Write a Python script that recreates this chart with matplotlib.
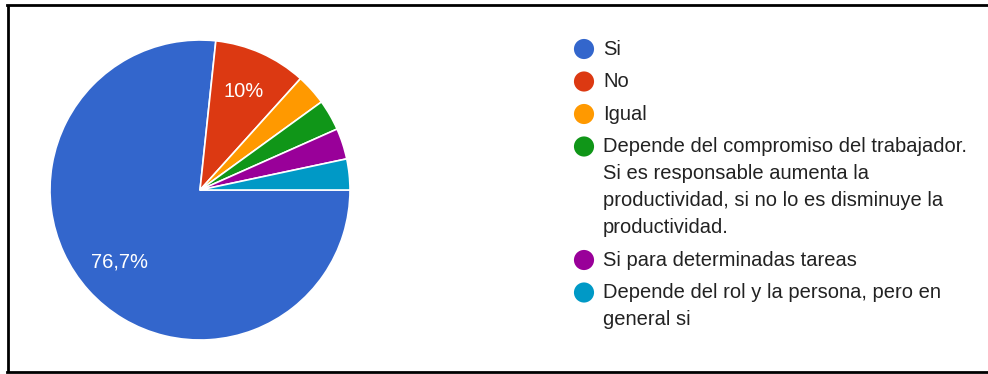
import matplotlib.pyplot as plt

plt.rcParams['font.family'] = ['Liberation Sans', 'DejaVu Sans']

# Survey answers and their share of responses (%)
labels = [
    "Si",
    "No",
    "Igual",
    "Depende del compromiso del trabajador.\nSi es responsable aumenta la\nproductividad, si no lo es disminuye la\nproductividad.",
    "Si para determinadas tareas",
    "Depende del rol y la persona, pero en\ngeneral si",
]
shares = [76.7, 10.0, 3.33, 3.33, 3.33, 3.33]
colors = ["#3366CC", "#DC3912", "#FF9900", "#109618", "#990099", "#0099C6"]

W, H = 988, 374
fig = plt.figure(figsize=(W / 100, H / 100), dpi=100)
fig.patch.set_facecolor("white")


def pct_label(p):
    if p < 5:
        return ""
    s = f"{p:.1f}".replace(".", ",")
    if s.endswith(",0"):
        s = s[:-2]
    return s + "%"


# pie: centre (200, 190) px, radius 150 px
cx, cy, r = 200, 190, 150
ax = fig.add_axes([(cx - r) / W, (H - cy - r) / H, 2 * r / W, 2 * r / H])
wedges, _, autotexts = ax.pie(
    shares, colors=colors, startangle=0, counterclock=False,
    autopct=pct_label, pctdistance=0.72,
    wedgeprops=dict(edgecolor="white", linewidth=1.2),
    textprops=dict(color="white", fontsize=14.5),
)
ax.set_xlim(-1, 1)
ax.set_ylim(-1, 1)
ax.set_aspect("equal")
ax.axis("off")

# overlay in pixel coordinates for the legend and frame
ov = fig.add_axes([0, 0, 1, 1])
ov.set_xlim(0, W)
ov.set_ylim(H, 0)
ov.axis("off")

y = 49
for lab, col in zip(labels, colors):
    ov.scatter([584], [y], s=210, color=col, edgecolors="none")
    for i, line in enumerate(lab.split("\n")):
        ov.text(603, y + i * 27, line, fontsize=14.5, color="#222222",
                va="center", ha="left")
    y += (len(lab.split("\n")) - 1) * 27 + 32.5

# frame on the left, top and bottom edges
ov.plot([8, 8], [5, 372], color="black", lw=2, solid_capstyle="butt")
ov.plot([7, W], [5, 5], color="black", lw=2)
ov.plot([7, W], [372, 372], color="black", lw=2)

fig.savefig("out.png", dpi=100)
